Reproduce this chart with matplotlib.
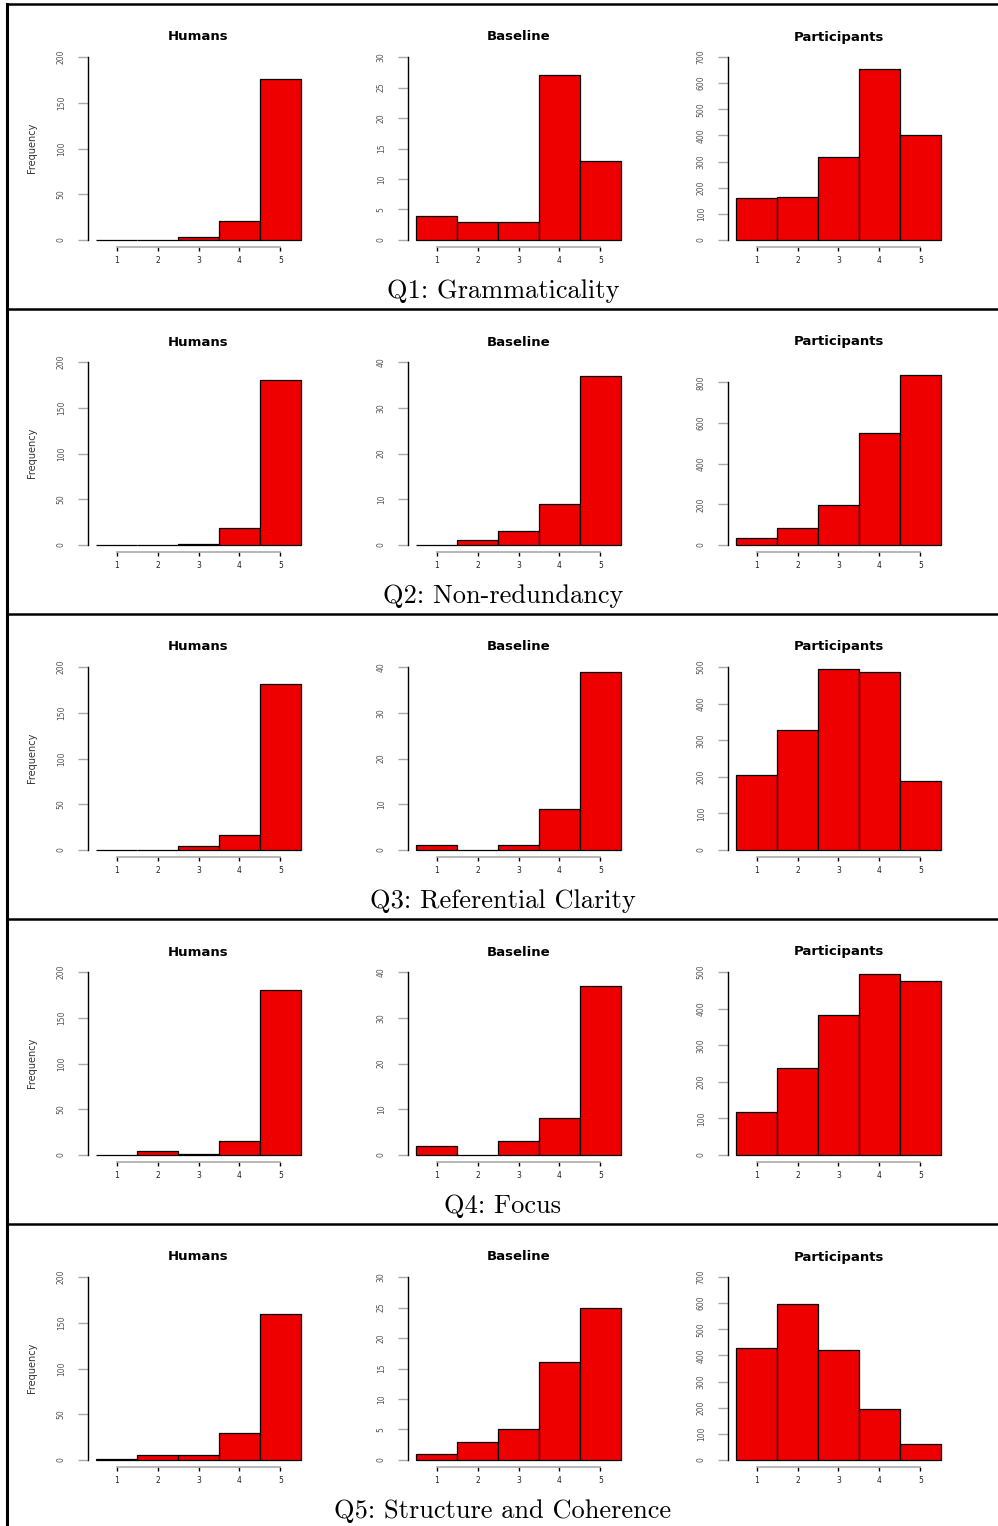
import matplotlib
matplotlib.use("Agg")
import matplotlib.pyplot as plt
from matplotlib.lines import Line2D

# rating counts (scores 1..5) per question, one list per group
scores = [1, 2, 3, 4, 5]
questions = [
    "Q1: Grammaticality",
    "Q2: Non-redundancy",
    "Q3: Referential Clarity",
    "Q4: Focus",
    "Q5: Structure and Coherence",
]
groups = ["Humans", "Baseline", "Participants"]

humans = [
    [0, 0, 3, 21, 176],
    [0, 0, 1, 19, 180],
    [0, 0, 4, 16, 181],
    [0, 4, 1, 15, 180],
    [1, 5, 5, 30, 160],
]
baseline = [
    [4, 3, 3, 27, 13],
    [0, 1, 3, 9, 37],
    [1, 0, 1, 9, 39],
    [2, 0, 3, 8, 37],
    [1, 3, 5, 16, 25],
]
participants = [
    [162, 164, 318, 654, 402],
    [34, 85, 195, 552, 836],
    [206, 329, 495, 486, 188],
    [118, 237, 383, 494, 476],
    [427, 595, 420, 196, 61],
]

# y-axis upper limits and tick steps for each group, per question
humans_ylim = [200, 200, 200, 200, 200]
humans_step = [50, 50, 50, 50, 50]
baseline_ylim = [30, 40, 40, 40, 30]
baseline_step = [5, 10, 10, 10, 5]
participants_ylim = [700, 900, 500, 500, 700]
participants_step = [100, 200, 100, 100, 100]
participants_toptick = [700, 800, 500, 500, 700]

BAR_COLOR = "#ee0000"
W, H = 998, 1526


def px_rect(left, top, width, height):
    return [left / W, 1 - (top + height) / H, width / W, height / H]


def draw_hist(ax, counts, ymax, step, top_tick):
    ax.bar(scores, counts, width=1.0, color=BAR_COLOR, edgecolor="black", linewidth=0.9)
    ax.set_xlim(0.3, 5.7)
    ax.set_ylim(-0.04 * ymax, 1.04 * ymax)
    ax.set_xticks(scores)
    ax.set_yticks(list(range(0, top_tick + 1, step)))
    for side in ["top", "right"]:
        ax.spines[side].set_visible(False)
    ax.spines["left"].set_bounds(0, top_tick)
    ax.spines["left"].set_linewidth(1.0)
    ax.spines["bottom"].set_bounds(1, 5)
    ax.spines["bottom"].set_color("#aaaaaa")
    ax.spines["bottom"].set_linewidth(1.2)
    ax.tick_params(axis="y", length=7, width=1.0, color="#aaaaaa", labelsize=5.5,
                   labelcolor="#555555", pad=9)
    ax.tick_params(axis="x", length=3, width=1.0, color="black", labelsize=5.5,
                   labelcolor="#222222", pad=3)
    plt.setp(ax.get_yticklabels(), rotation=90, va="center")


def main():
    fig = plt.figure(figsize=(W / 100, H / 100), dpi=100)

    data = [humans, baseline, participants]
    ylims = [humans_ylim, baseline_ylim, participants_ylim]
    steps = [humans_step, baseline_step, participants_step]
    top_ticks = [humans_ylim, baseline_ylim, participants_toptick]

    for r, question in enumerate(questions):
        row_off = 305 * r
        for c, group in enumerate(groups):
            left = 88 + 320 * c
            ax = fig.add_axes(px_rect(left, 49.7 + row_off, 221, 197.6))
            draw_hist(ax, data[c][r], ylims[c][r], steps[c][r], top_ticks[c][r])
            fig.text((left + 110.5) / W, 1 - (37 + row_off) / H, group,
                     ha="center", va="center", fontsize=9.5, fontweight="bold")
        fig.text(32 / W, 1 - (148 + row_off) / H, "Frequency", rotation=90,
                 ha="center", va="center", fontsize=7, color="#333333")
        fig.text(503 / W, 1 - (291 + row_off) / H, question, ha="center", va="center",
                 fontsize=19, family=["cmr10", "DejaVu Serif"])

    # table-like frame: top/row separators and the left border
    for r in range(5):
        y = 1 - (4 + 305 * r) / H
        fig.add_artist(Line2D([7 / W, 1], [y, y], color="black", linewidth=1.8))
    fig.add_artist(Line2D([7 / W, 7 / W], [0, 1 - 4 / H], color="black", linewidth=2.2))

    fig.savefig("out.png", dpi=100)


if __name__ == "__main__":
    main()
